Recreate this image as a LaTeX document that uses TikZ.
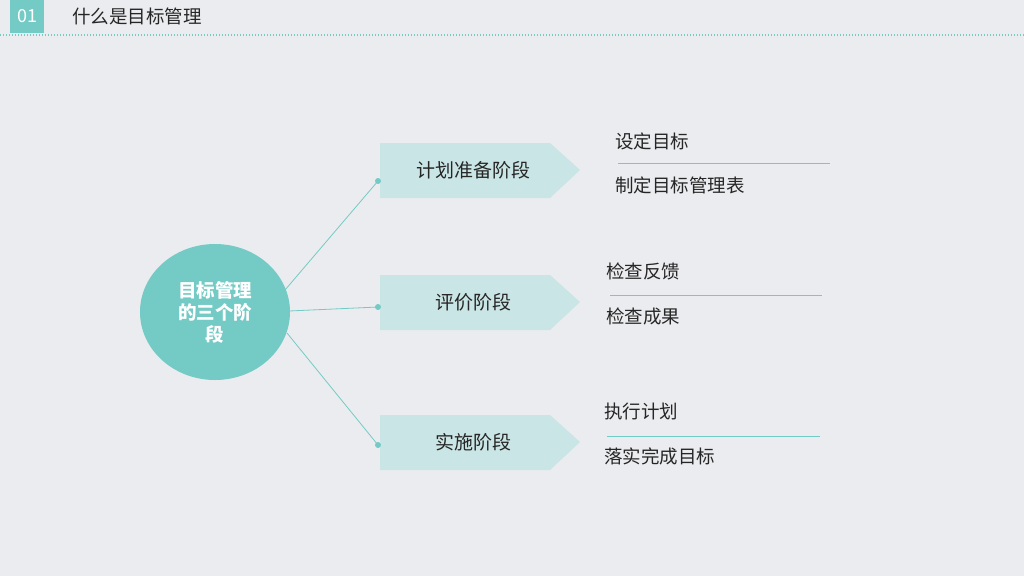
\documentclass[tikz,border=0pt]{standalone}
\usepackage{fontspec}
\setmainfont{Noto Sans CJK SC}
\usetikzlibrary{shapes.geometric}
\begin{document}
\begin{tikzpicture}[x=1pt,y=-1pt,
  txt/.style={font=\fontsize{18.5}{22}\selectfont,text=black!85,anchor=west,inner sep=0},
  conn/.style={draw=teal1,line width=0.8pt},
  sep/.style={draw=teal1,line width=0.7pt}]
\definecolor{bg}{HTML}{EBECEF}
\definecolor{teal1}{HTML}{74CAC5}
\definecolor{boxc}{HTML}{CAE5E5}
\fill[bg] (0,0) rectangle (1024,576);
\useasboundingbox (0,0) rectangle (1024,576);
% header
\fill[teal1] (10,0) rectangle (44,33);
\node[text=white,font=\fontsize{18}{20}\selectfont] (num) at (27,16) {01};
\node[txt] (title) at (72,16) {什么是目标管理};
\draw[teal1,line width=1.2pt,dash pattern=on 1.2pt off 1.8pt] (0,35) -- (1024,35);
% center
\node[ellipse,fill=teal1,minimum width=150,minimum height=136,inner sep=0] (c) at (215,312) {};
\node[text=white,font=\fontsize{18.5}{22}\selectfont\bfseries,align=center] (ct) at (215,312) {目标管理\\的三个阶\\段};
% stages
\foreach \n/\y/\t in {s1/170/计划准备阶段,s2/302/评价阶段,s3/442/实施阶段}{
  \fill[boxc] (380,\y-27) -- (550,\y-27) -- (580,\y) -- (550,\y+28) -- (380,\y+28) -- cycle;
  \node[font=\fontsize{19}{22}\selectfont,text=black!85] (\n) at (473,\y) {\t};
}
\coordinate (d1) at (378,181);
\coordinate (d2) at (378,307);
\coordinate (d3) at (378,445);
\coordinate (e1) at (285,290);
\coordinate (e2) at (289,311);
\coordinate (e3) at (287,333);
\draw[conn] (e1) -- (d1); \draw[conn] (e2) -- (d2); \draw[conn] (e3) -- (d3);
\foreach \d in {d1,d2,d3} \fill[teal1] (\d) circle (3);
% right items
\node[txt] (a1) at (615,141) {设定目标};
\draw[sep] (618,163) -- (830,163);
\node[txt] (a2) at (615,185) {制定目标管理表};
\node[txt] (b1) at (606,271) {检查反馈};
\draw[sep] (610,295) -- (822,295);
\node[txt] (b2) at (606,316) {检查成果};
\node[txt] (c1) at (604,411) {执行计划};
\draw[sep] (607,436) -- (820,436);
\node[txt] (c2) at (604,456) {落实完成目标};
\end{tikzpicture}
\end{document}
